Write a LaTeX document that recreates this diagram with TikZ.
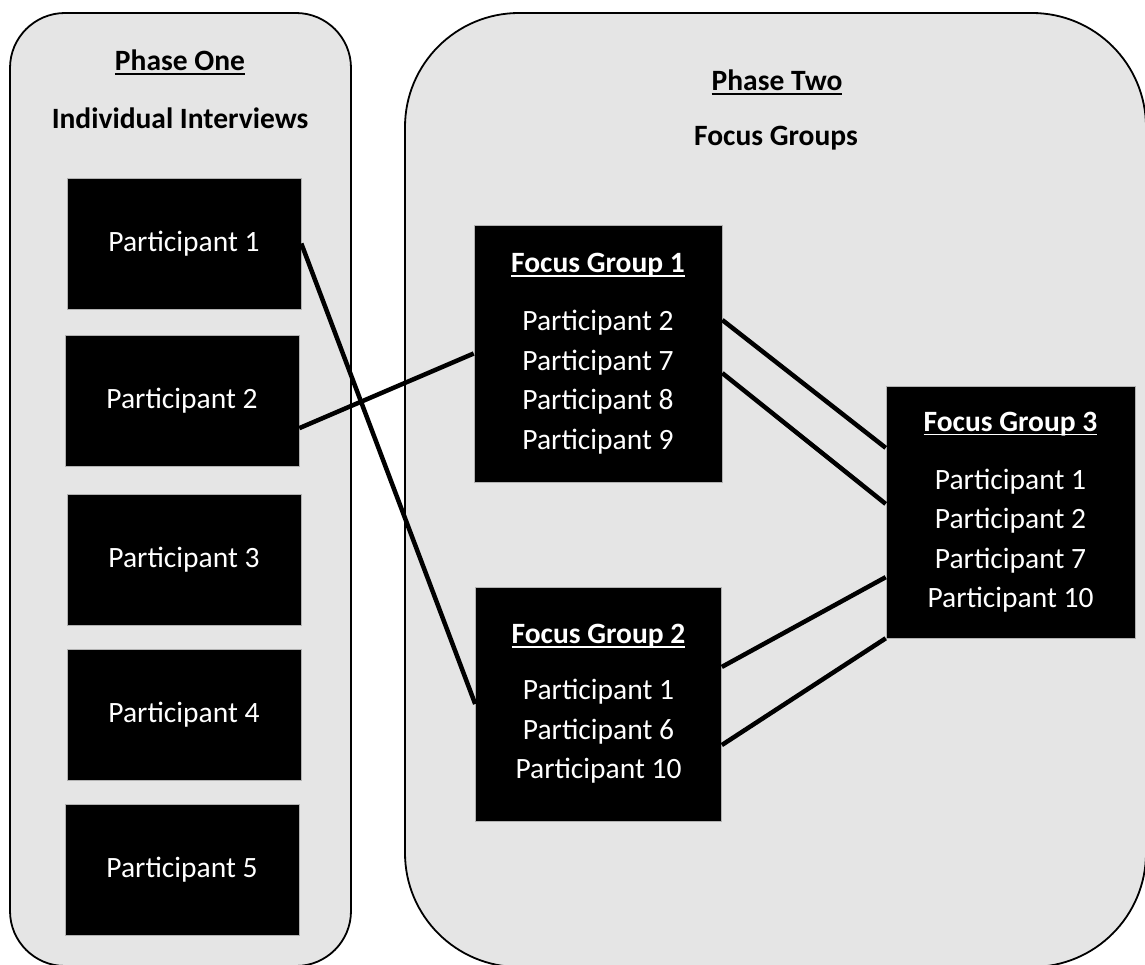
\documentclass[tikz,border=0pt]{standalone}
\usepackage{fontspec}
\setmainfont{Carlito}
\usetikzlibrary{calc}
\definecolor{panelgray}{RGB}{229,229,229}
% underline set at a fixed depth, not adding to the box depth
\newcommand{\ulfix}[1]{{\setbox0\hbox{#1}\rlap{\smash{\rule[-0.15em]{\wd0}{0.066em}}}\box0}}

\begin{document}
\begin{tikzpicture}[x=1pt,y=-1pt,
  panel/.style={draw=black, line width=1.8pt, fill=panelgray},
  pbox/.style={fill=black, draw=gray!60, line width=0.6pt, text=white,
    inner sep=0pt, align=center, font=\fontsize{29.5}{39.5}\selectfont},
  head/.style={font=\fontsize{29.5}{35}\selectfont\bfseries},
  link/.style={line width=4.5pt, black}]
\useasboundingbox (0,0) rectangle (1145,965);

% phase panels
\draw[panel, rounded corners=55pt] (10,13) rectangle (351,966);
\draw[panel, rounded corners=114pt] (405,13) rectangle (1146,967);

% headings
\node[head] (h1) at (180,60) {\ulfix{Phase One}};
\node[head] (h1b) at (180,118) {Individual Interviews};
\node[head] (h2) at (777,80) {\ulfix{Phase Two}};
\node[head] (h2b) at (776,138) {Focus Groups};

% individual interviews
\node[pbox, minimum width=234pt, minimum height=131pt] (p1) at (184,243.5) {Participant 1};
\node[pbox, minimum width=234pt, minimum height=131pt] (p2) at (182,400.5) {Participant 2};
\node[pbox, minimum width=234pt, minimum height=131pt] (p3) at (184,559.5) {Participant 3};
\node[pbox, minimum width=234pt, minimum height=131pt] (p4) at (184,714.5) {Participant 4};
\node[pbox, minimum width=234pt, minimum height=131pt] (p5) at (182,870) {Participant 5};

% focus groups
\node[pbox, minimum width=248pt, minimum height=257pt] (fg1) at (598,353.5)
  {\ulfix{\textbf{Focus Group 1}}\\[18.5pt] Participant 2\\ Participant 7\\ Participant 8\\ Participant 9};
\node[pbox, minimum width=246pt, minimum height=234pt] (fg2) at (598.5,704)
  {\ulfix{\textbf{Focus Group 2}}\\[16.5pt] Participant 1\\ Participant 6\\ Participant 10};
\node[pbox, minimum width=249pt, minimum height=252pt] (fg3) at (1010.5,512)
  {\ulfix{\textbf{Focus Group 3}}\\[18.5pt] Participant 1\\ Participant 2\\ Participant 7\\ Participant 10};

% connections
\draw[link] (p1.east) -- (fg2.west);
\draw[link] ($(p2.north east)!0.71!(p2.south east)$) -- (fg1.west);
\draw[link] ($(fg1.north east)!0.37!(fg1.south east)$) -- ($(fg3.north west)!0.246!(fg3.south west)$);
\draw[link] ($(fg1.north east)!0.576!(fg1.south east)$) -- ($(fg3.north west)!0.468!(fg3.south west)$);
\draw[link] ($(fg2.north east)!0.342!(fg2.south east)$) -- ($(fg3.north west)!0.758!(fg3.south west)$);
\draw[link] ($(fg2.north east)!0.675!(fg2.south east)$) -- (fg3.south west);
\end{tikzpicture}
\end{document}
